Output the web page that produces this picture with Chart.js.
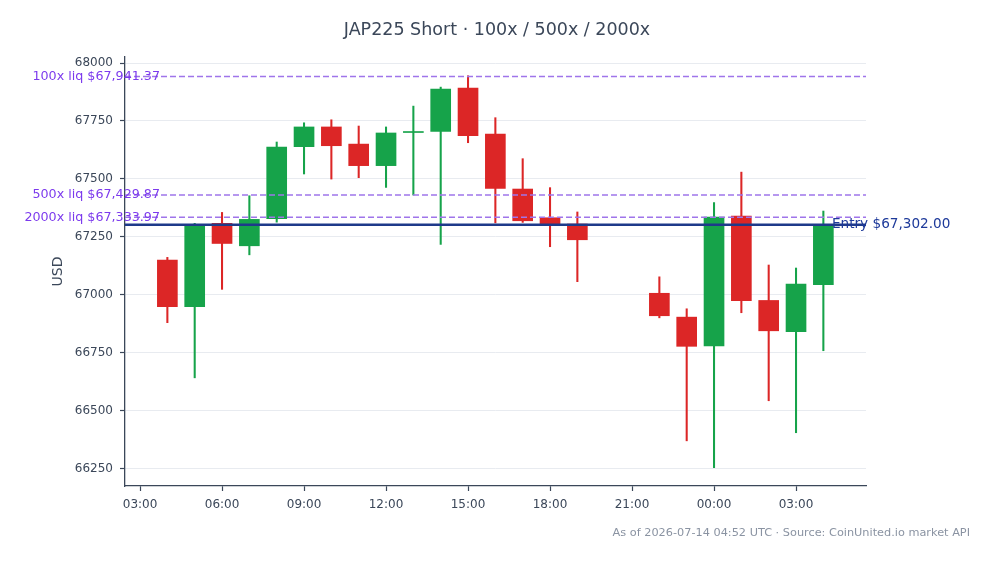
<!DOCTYPE html>
<html>
<head>
<meta charset="utf-8">
<script src="https://cdn.jsdelivr.net/npm/chart.js@4.4.1/dist/chart.umd.min.js"></script>
<style>
  html, body { margin: 0; padding: 0; background: #ffffff; }
  #wrap { width: 994px; height: 564px; }
</style>
</head>
<body>
<div id="wrap"><canvas id="c"></canvas></div>
<script>
// Hourly candles, hours counted from 00:00 of the first day (24+ = next day)
const hours  = [4, 5, 6, 7, 8, 9, 10, 11, 12, 13, 14, 15, 16, 17, 18, 19, 22, 23, 24, 25, 26, 27, 28];
const opens  = [67149, 66948, 67308, 67211, 67328, 67639, 67724, 67650, 67557, 67700, 67705, 67892, 67693, 67456, 67332, 67305, 67006, 66903, 66779, 67339, 66975, 66840, 67043];
const highs  = [67161, 67308, 67355, 67427, 67659, 67742, 67755, 67728, 67724, 67814, 67896, 67945, 67764, 67587, 67462, 67357, 67077, 66939, 67397, 67529, 67128, 67115, 67361];
const lows   = [66879, 66641, 67023, 67172, 67313, 67521, 67499, 67505, 67463, 67430, 67217, 67656, 67310, 67312, 67207, 67056, 66900, 66369, 66253, 66922, 66542, 66404, 66758];
const closes = [66948, 67300, 67221, 67325, 67637, 67724, 67643, 67557, 67698, 67704, 67888, 67686, 67459, 67319, 67305, 67237, 66909, 66777, 67335, 66974, 66844, 67046, 67300];

// Reference levels
const entryPrice = 67302.00;
const liqLabels  = ['100x liq', '500x liq', '2000x liq'];
const liqPrices  = [67941.37, 67429.87, 67333.97];

// Axis ticks
const priceTicks = [66250, 66500, 66750, 67000, 67250, 67500, 67750, 68000];
const timeTicks  = [3, 6, 9, 12, 15, 18, 21, 24, 27];

const xMin = 2.45, xMax = 29.56;
const yMin = 66174, yMax = 68026;

const GREEN = '#16a34a';
const RED = '#dc2626';
const INK = '#3b4759';

const up = hours.map((h, i) => closes[i] >= opens[i]);
const colors = up.map(u => u ? GREEN : RED);

function money(v) {
  return '$' + v.toLocaleString('en-US', { minimumFractionDigits: 2, maximumFractionDigits: 2 });
}
function hhmm(v) {
  const h = ((v % 24) + 24) % 24;
  return String(h).padStart(2, '0') + ':00';
}
function levelLine(price, color, width, dash) {
  return {
    type: 'line',
    data: [{ x: xMin, y: price }, { x: xMax, y: price }],
    borderColor: color,
    borderWidth: width,
    borderDash: dash,
    pointRadius: 0,
    fill: false,
    order: -1
  };
}

// labels for level lines + footer note
const levelLabels = {
  id: 'levelLabels',
  afterDatasetsDraw(chart) {
    const { ctx, scales: { x, y } } = chart;
    ctx.save();
    ctx.textBaseline = 'middle';
    ctx.font = '12.7px "DejaVu Sans"';
    ctx.fillStyle = '#7c3aed';
    ctx.textAlign = 'right';
    liqPrices.forEach((p, i) => {
      ctx.fillText(liqLabels[i] + ' ' + money(p), x.left + 35, y.getPixelForValue(p));
    });
    ctx.font = '13.6px "DejaVu Sans"';
    ctx.fillStyle = '#1e3a9a';
    ctx.textAlign = 'left';
    ctx.fillText('Entry ' + money(entryPrice), x.right - 34, y.getPixelForValue(entryPrice));

    ctx.font = '11.3px "DejaVu Sans"';
    ctx.fillStyle = '#8a93a2';
    ctx.textAlign = 'right';
    ctx.fillText('As of 2026-07-14 04:52 UTC · Source: CoinUnited.io market API', 970, 533);
    ctx.restore();
  }
};

const datasets = [
  {
    label: 'body',
    data: hours.map((h, i) => ({ x: h, y: [opens[i], closes[i]] })),
    backgroundColor: colors,
    borderWidth: 0,
    barThickness: 20,
    minBarLength: 1,
    grouped: false
  },
  {
    label: 'wick',
    data: hours.map((h, i) => ({ x: h, y: [lows[i], highs[i]] })),
    backgroundColor: colors,
    borderWidth: 0,
    barThickness: 1.4,
    grouped: false
  },
  levelLine(liqPrices[0], '#9f75ea', 1.5, [6, 3]),
  levelLine(liqPrices[1], '#9f75ea', 1.5, [6, 3]),
  levelLine(liqPrices[2], '#9f75ea', 1.5, [6, 3]),
  levelLine(entryPrice, '#1e3a8a', 2.5, [])
];

new Chart(document.getElementById('c'), {
  type: 'bar',
  data: { datasets },
  plugins: [levelLabels],
  options: {
    responsive: true,
    maintainAspectRatio: false,
    animation: false,
    layout: { padding: 0 },
    scales: {
      x: {
        type: 'linear',
        min: xMin,
        max: xMax,
        offset: false,
        afterFit: s => { s.height = 78; },
        afterBuildTicks: s => { s.ticks = timeTicks.map(v => ({ value: v })); },
        grid: { offset: false, drawOnChartArea: false, tickLength: 5, tickColor: INK, tickWidth: 1.2 },
        border: { color: INK, width: 1.3 },
        ticks: {
          color: INK,
          padding: 7,
          maxRotation: 0,
          font: { family: '"DejaVu Sans"', size: 12 },
          callback: v => hhmm(v)
        }
      },
      y: {
        type: 'linear',
        min: yMin,
        max: yMax,
        afterFit: s => { s.width = 125; },
        afterBuildTicks: s => { s.ticks = priceTicks.map(v => ({ value: v })); },
        grid: { color: '#e8ebf0', lineWidth: 1, tickLength: 5, tickColor: INK, tickWidth: 1.2 },
        border: { color: INK, width: 1.3 },
        ticks: {
          color: INK,
          padding: 7,
          font: { family: '"DejaVu Sans"', size: 12 },
          callback: v => String(v)
        },
        title: {
          display: true,
          text: 'USD',
          color: INK,
          padding: { top: 50, bottom: 0 },
          font: { family: '"DejaVu Sans"', size: 14 }
        }
      },
      y2: {
        type: 'linear',
        position: 'right',
        display: true,
        afterFit: s => { s.width = 128; },
        grid: { display: false },
        border: { display: false },
        ticks: { display: false }
      }
    },
    plugins: {
      legend: { display: false },
      tooltip: { enabled: false },
      title: {
        display: true,
        text: 'JAP225 Short · 100x / 500x / 2000x',
        color: '#3b4759',
        font: { family: '"DejaVu Sans"', size: 17.5, weight: 'normal' },
        padding: { top: 20, bottom: 16 }
      }
    }
  }
});
</script>
</body>
</html>
